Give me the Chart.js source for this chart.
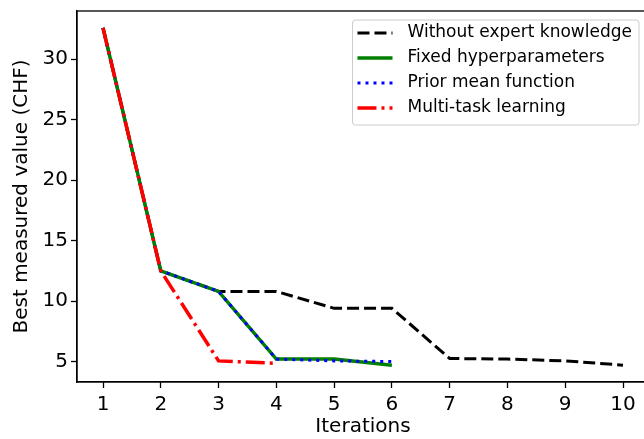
<!DOCTYPE html>
<html>
<head>
<meta charset="utf-8">
<script src="https://cdn.jsdelivr.net/npm/chart.js@4.4.1/dist/chart.umd.min.js"></script>
<style>
  html, body { margin: 0; padding: 0; background: #fff; overflow: hidden; }
  #wrap { width: 644px; height: 439px; overflow: hidden; }
</style>
</head>
<body>
<div id="wrap"><canvas id="bo" width="652" height="439"></canvas></div>
<script>
const iterations = [1, 2, 3, 4, 5, 6, 7, 8, 9, 10];
const withoutExpert = [32.6, 12.5, 10.8, 10.8, 9.4, 9.4, 5.25, 5.2, 5.05, 4.7];
const fixedHyper = [32.6, 12.5, 10.8, 5.2, 5.2, 4.7];
const priorMean = [32.6, 12.5, 10.8, 5.2, 5.05, 5.0];
const multiTask = [32.6, 12.5, 5.05, 4.85];
const yTicks = [5, 10, 15, 20, 25, 30];

const FONT = "'DejaVu Sans', sans-serif";
Chart.defaults.color = "#000";
Chart.defaults.font.family = FONT;

function pts(values) {
  return values.map((v, i) => ({ x: iterations[i], y: v }));
}

// matplotlib-like legend box, upper right
const mplLegend = {
  id: "mplLegend",
  afterDraw(chart) {
    const ctx = chart.ctx;
    const area = chart.chartArea;
    const sets = chart.data.datasets;
    ctx.save();
    ctx.font = "17px " + FONT;
    let textW = 0;
    sets.forEach((d) => { textW = Math.max(textW, ctx.measureText(d.label).width); });
    const w = 55 + textW + 7;
    const h = 105;
    const right = area.right - 10;
    const x = right - w;
    const y = area.top + 9;
    ctx.beginPath();
    ctx.roundRect(x, y, w, h, 3);
    ctx.fillStyle = "rgba(255,255,255,0.8)";
    ctx.fill();
    ctx.strokeStyle = "#cccccc";
    ctx.lineWidth = 1;
    ctx.stroke();
    sets.forEach((d, i) => {
      const cy = y + 13 + i * 25;
      ctx.beginPath();
      ctx.setLineDash(d.borderDash || []);
      ctx.strokeStyle = d.borderColor;
      ctx.lineWidth = d.borderWidth;
      ctx.moveTo(x + 5, cy);
      ctx.lineTo(x + 40, cy);
      ctx.stroke();
      ctx.setLineDash([]);
      ctx.fillStyle = "#000";
      ctx.textBaseline = "middle";
      ctx.textAlign = "left";
      ctx.fillText(d.label, x + 55, cy);
    });
    ctx.restore();
  },
};

// full axes frame (top spine)
const frame = {
  id: "frame",
  afterDatasetsDraw(chart) {
    const { ctx, chartArea: a } = chart;
    ctx.save();
    ctx.strokeStyle = "#000";
    ctx.lineWidth = 1.3;
    ctx.strokeRect(a.left, a.top, a.right - a.left, a.bottom - a.top);
    ctx.restore();
  },
};

new Chart(document.getElementById("bo"), {
  type: "line",
  data: {
    datasets: [
      {
        label: "Without expert knowledge",
        data: pts(withoutExpert),
        borderColor: "#000000",
        borderWidth: 3,
        borderDash: [12, 5],
        order: 4,
      },
      {
        label: "Fixed hyperparameters",
        data: pts(fixedHyper),
        borderColor: "#008000",
        borderWidth: 3.5,
        order: 3,
      },
      {
        label: "Prior mean function",
        data: pts(priorMean),
        borderColor: "#0000ff",
        borderWidth: 3,
        borderDash: [3, 5],
        order: 2,
      },
      {
        label: "Multi-task learning",
        data: pts(multiTask),
        borderColor: "#ff0000",
        borderWidth: 3.5,
        borderDash: [19, 5, 3, 5],
        order: 1,
      },
    ],
  },
  options: {
    responsive: false,
    animation: false,
    devicePixelRatio: 1,
    layout: { padding: { top: 11, right: 3, left: 0, bottom: 0 } },
    elements: { point: { radius: 0 }, line: { tension: 0, fill: false } },
    plugins: { legend: { display: false }, tooltip: { enabled: false } },
    scales: {
      x: {
        type: "linear",
        min: 0.55,
        max: 10.45,
        afterBuildTicks: (s) => { s.ticks = iterations.map((v) => ({ value: v })); },
        afterFit: (s) => { s.height = 57; s.paddingLeft = 0; s.paddingRight = 0; },
        grid: { drawOnChartArea: false, tickLength: 6, tickColor: "#000", tickWidth: 1.3 },
        border: { color: "#000", width: 1.3 },
        ticks: { font: { size: 20 }, padding: 5, maxRotation: 0 },
        title: { display: true, text: "Iterations", font: { size: 20 }, padding: { top: 0, bottom: 0 } },
      },
      y: {
        min: 3.305,
        max: 33.995,
        afterBuildTicks: (s) => { s.ticks = yTicks.map((v) => ({ value: v })); },
        afterFit: (s) => { s.width = 77; s.paddingTop = 0; s.paddingBottom = 0; },
        grid: { drawOnChartArea: false, tickLength: 6, tickColor: "#000", tickWidth: 1.3 },
        border: { color: "#000", width: 1.3 },
        ticks: { font: { size: 20 }, padding: 3 },
        title: { display: true, text: "Best measured value (CHF)", font: { size: 20 }, padding: { top: 10, bottom: 0 } },
      },
    },
  },
  plugins: [mplLegend, frame],
});
</script>
</body>
</html>
